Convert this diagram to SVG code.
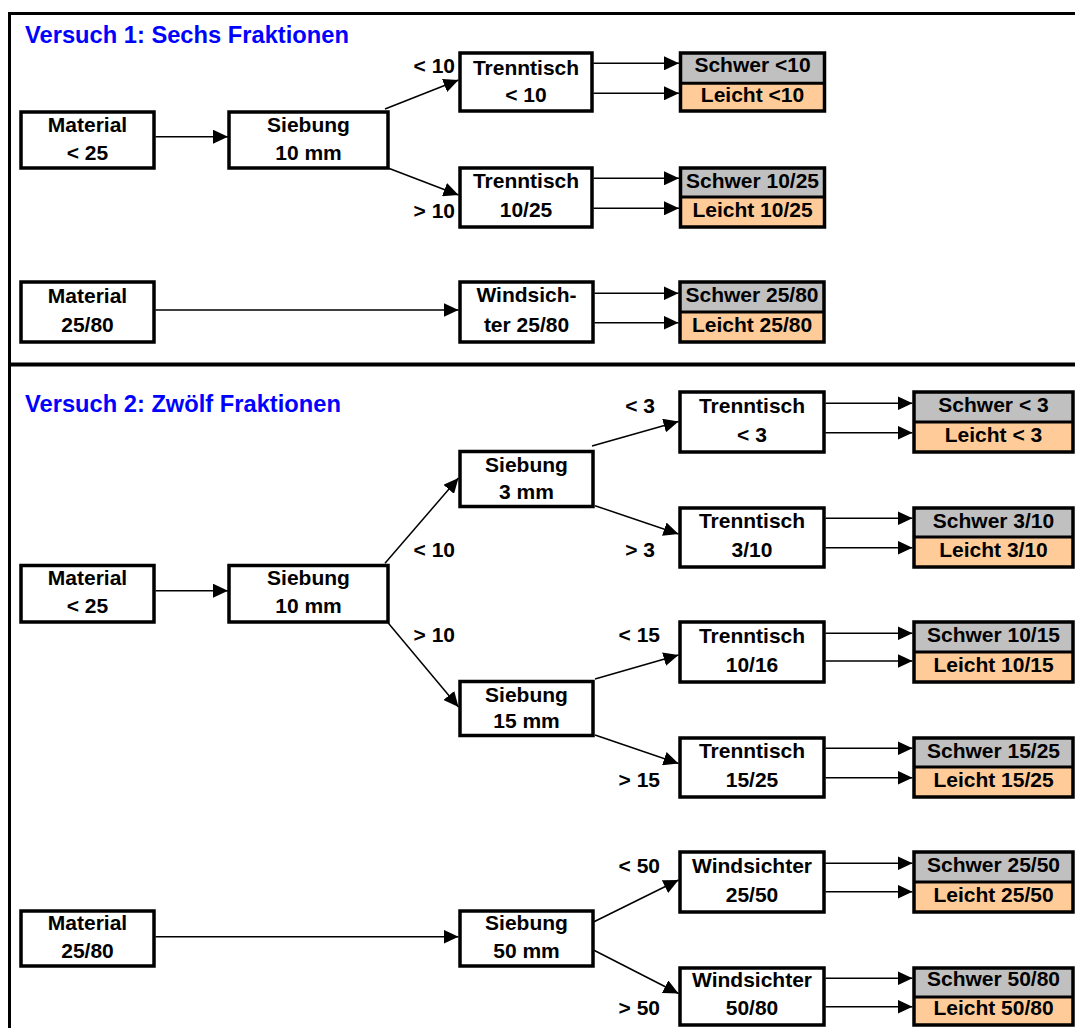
<svg xmlns="http://www.w3.org/2000/svg" width="1075" height="1028" viewBox="0 0 1075 1028">
<style>
text{font-family:"Liberation Sans",Arial,Helvetica,sans-serif;font-weight:bold;font-size:21px;fill:#000}
.t{text-anchor:middle}
.lbl{text-anchor:end}
.title{font-size:23.7px;fill:#0000FF}
.box{fill:#fff;stroke:#000;stroke-width:3.5}
.out{fill:none;stroke:#000;stroke-width:3.5}
.hv{fill:#C0C0C0}
.lt{fill:#FFCC99}
.div{stroke:#000;stroke-width:3}
.frame{stroke:#000;stroke-width:3;fill:none}
.c line{stroke:#000;stroke-width:1.5;marker-end:url(#ah)}
</style>
<defs>
<marker id="ah" markerUnits="userSpaceOnUse" markerWidth="15" markerHeight="14" refX="15" refY="7" orient="auto"><path d="M0,0 L15,7 L0,14 Z" fill="#000"/></marker>
</defs>
<rect width="1075" height="1028" fill="#fff"/>
<g id="frame">
<line class="frame" x1="8" y1="13.5" x2="1075" y2="13.5"/>
<line class="frame" x1="9.5" y1="12" x2="9.5" y2="1028"/>
<line class="frame" x1="9.5" y1="364.5" x2="1075" y2="364.5" style="stroke-width:4"/>
</g>
<text class="title" x="25" y="43">Versuch 1: Sechs Fraktionen</text>
<text class="title" x="25" y="412">Versuch 2: Zwölf Fraktionen</text>

<g class="c" id="connectors">
<line x1="155.5" y1="136.7" x2="228" y2="136.7"/>
<line x1="385" y1="109" x2="458.5" y2="80"/>
<line x1="388" y1="168" x2="458.5" y2="195"/>
<line x1="593.5" y1="63.3" x2="679" y2="63.3"/>
<line x1="593.5" y1="93.3" x2="679" y2="93.3"/>
<line x1="593.5" y1="178.3" x2="679" y2="178.3"/>
<line x1="593.5" y1="208.3" x2="679" y2="208.3"/>
<line x1="155.5" y1="310" x2="458.5" y2="310"/>
<line x1="594.5" y1="293.3" x2="678.5" y2="293.3"/>
<line x1="594.5" y1="322.7" x2="678.5" y2="322.7"/>

<line x1="592" y1="446" x2="678.5" y2="421.5"/>
<line x1="595" y1="505.7" x2="678.5" y2="534"/>
<line x1="825.5" y1="403.3" x2="912.5" y2="403.3"/>
<line x1="825.5" y1="432.7" x2="912.5" y2="432.7"/>
<line x1="825.5" y1="518.3" x2="912.5" y2="518.3"/>
<line x1="825.5" y1="547.7" x2="912.5" y2="547.7"/>
<line x1="155.5" y1="590.7" x2="228" y2="590.7"/>
<line x1="385" y1="563.3" x2="458.5" y2="478"/>
<line x1="388" y1="622.7" x2="458.5" y2="707"/>
<line x1="595" y1="679" x2="678.5" y2="655"/>
<line x1="595" y1="735" x2="678.5" y2="763.5"/>
<line x1="825.5" y1="633.3" x2="912.5" y2="633.3"/>
<line x1="825.5" y1="661" x2="912.5" y2="661"/>
<line x1="825.5" y1="748.3" x2="912.5" y2="748.3"/>
<line x1="825.5" y1="777.7" x2="912.5" y2="777.7"/>
<line x1="155.5" y1="936.7" x2="458.5" y2="936.7"/>
<line x1="593.5" y1="922" x2="678.5" y2="880"/>
<line x1="593.5" y1="950" x2="678.5" y2="993.5"/>
<line x1="825.5" y1="863.3" x2="912.5" y2="863.3"/>
<line x1="825.5" y1="891.7" x2="912.5" y2="891.7"/>
<line x1="825.5" y1="978.3" x2="912.5" y2="978.3"/>
<line x1="825.5" y1="1006.7" x2="912.5" y2="1006.7"/>
</g>

<g id="labels">
<text class="lbl" x="455" y="73">&lt; 10</text>
<text class="lbl" x="455" y="218">&gt; 10</text>
<text class="lbl" x="655" y="413">&lt; 3</text>
<text class="lbl" x="655" y="556.7">&gt; 3</text>
<text class="lbl" x="455" y="556.5">&lt; 10</text>
<text class="lbl" x="455" y="641.7">&gt; 10</text>
<text class="lbl" x="660" y="642">&lt; 15</text>
<text class="lbl" x="660" y="786.7">&gt; 15</text>
<text class="lbl" x="660" y="872.5">&lt; 50</text>
<text class="lbl" x="660" y="1015">&gt; 50</text>
</g>

<!-- Section 1 -->
<g id="m1"><rect class="box" x="21" y="112" width="133" height="56"/><text class="t" x="87.5" y="132">Material</text><text class="t" x="87.5" y="160">&lt; 25</text></g>
<g id="s1"><rect class="box" x="229" y="112" width="159" height="56"/><text class="t" x="308.5" y="132">Siebung</text><text class="t" x="308.5" y="160">10 mm</text></g>
<g id="t1"><rect class="box" x="460" y="53" width="132" height="58"/><text class="t" x="526" y="75">Trenntisch</text><text class="t" x="526" y="102">&lt; 10</text></g>
<g id="r1"><rect class="hv" x="680.5" y="53" width="144" height="30"/><rect class="lt" x="680.5" y="83" width="144" height="28"/><line class="div" x1="680.5" y1="83.3" x2="824.5" y2="83.3"/><rect class="out" x="680.5" y="53" width="144" height="58"/><text class="t" x="752.5" y="72">Schwer &lt;10</text><text class="t" x="752.5" y="102">Leicht &lt;10</text></g>
<g id="t2"><rect class="box" x="460" y="168" width="132" height="59"/><text class="t" x="526" y="188">Trenntisch</text><text class="t" x="526" y="216.7">10/25</text></g>
<g id="r2"><rect class="hv" x="680.5" y="168" width="144" height="29"/><rect class="lt" x="680.5" y="197" width="144" height="30"/><line class="div" x1="680.5" y1="197" x2="824.5" y2="197"/><rect class="out" x="680.5" y="168" width="144" height="59"/><text class="t" x="752.5" y="187.7">Schwer 10/25</text><text class="t" x="752.5" y="216.7">Leicht 10/25</text></g>
<g id="m2"><rect class="box" x="21" y="282" width="133" height="60"/><text class="t" x="87.5" y="302.5">Material</text><text class="t" x="87.5" y="331.7">25/80</text></g>
<g id="w1"><rect class="box" x="460" y="282" width="133" height="60"/><text class="t" x="526.5" y="302">Windsich-</text><text class="t" x="526.5" y="331.7">ter 25/80</text></g>
<g id="r3"><rect class="hv" x="680" y="282" width="144" height="30"/><rect class="lt" x="680" y="312" width="144" height="30"/><line class="div" x1="680" y1="312" x2="824" y2="312"/><rect class="out" x="680" y="282" width="144" height="60"/><text class="t" x="752" y="301.7">Schwer 25/80</text><text class="t" x="752" y="331.7">Leicht 25/80</text></g>

<!-- Section 2 -->
<g id="t3"><rect class="box" x="680" y="392" width="144" height="60"/><text class="t" x="752" y="413">Trenntisch</text><text class="t" x="752" y="441.7">&lt; 3</text></g>
<g id="r4"><rect class="hv" x="914" y="392" width="159" height="30"/><rect class="lt" x="914" y="422" width="159" height="30"/><line class="div" x1="914" y1="422" x2="1073" y2="422"/><rect class="out" x="914" y="392" width="159" height="60"/><text class="t" x="993.5" y="411.7">Schwer &lt; 3</text><text class="t" x="993.5" y="441.7">Leicht &lt; 3</text></g>
<g id="s2"><rect class="box" x="460" y="451.5" width="133" height="55"/><text class="t" x="526.5" y="471.7">Siebung</text><text class="t" x="526.5" y="499.3">3 mm</text></g>
<g id="t4"><rect class="box" x="680" y="508" width="144" height="59"/><text class="t" x="752" y="528.3">Trenntisch</text><text class="t" x="752" y="556.7">3/10</text></g>
<g id="r5"><rect class="hv" x="914" y="508" width="159" height="29"/><rect class="lt" x="914" y="537" width="159" height="30"/><line class="div" x1="914" y1="537" x2="1073" y2="537"/><rect class="out" x="914" y="508" width="159" height="59"/><text class="t" x="993.5" y="527.5">Schwer 3/10</text><text class="t" x="993.5" y="556.7">Leicht 3/10</text></g>
<g id="m3"><rect class="box" x="21" y="565.5" width="133" height="56.5"/><text class="t" x="87.5" y="585">Material</text><text class="t" x="87.5" y="613.3">&lt; 25</text></g>
<g id="s3"><rect class="box" x="229" y="565.5" width="159" height="56.5"/><text class="t" x="308.5" y="585">Siebung</text><text class="t" x="308.5" y="613.3">10 mm</text></g>
<g id="t5"><rect class="box" x="680" y="622" width="144" height="60"/><text class="t" x="752" y="643.3">Trenntisch</text><text class="t" x="752" y="671.7">10/16</text></g>
<g id="r6"><rect class="hv" x="914" y="622" width="159" height="30"/><rect class="lt" x="914" y="652" width="159" height="30"/><line class="div" x1="914" y1="652" x2="1073" y2="652"/><rect class="out" x="914" y="622" width="159" height="60"/><text class="t" x="993.5" y="642">Schwer 10/15</text><text class="t" x="993.5" y="671.7">Leicht 10/15</text></g>
<g id="s4"><rect class="box" x="460" y="681.5" width="133" height="54"/><text class="t" x="526.5" y="701.7">Siebung</text><text class="t" x="526.5" y="728.3">15 mm</text></g>
<g id="t6"><rect class="box" x="680" y="738" width="144" height="59"/><text class="t" x="752" y="758.3">Trenntisch</text><text class="t" x="752" y="786.7">15/25</text></g>
<g id="r7"><rect class="hv" x="914" y="738" width="159" height="29"/><rect class="lt" x="914" y="767" width="159" height="30"/><line class="div" x1="914" y1="767" x2="1073" y2="767"/><rect class="out" x="914" y="738" width="159" height="59"/><text class="t" x="993.5" y="757.5">Schwer 15/25</text><text class="t" x="993.5" y="786.7">Leicht 15/25</text></g>
<g id="w2"><rect class="box" x="680" y="852" width="144" height="60"/><text class="t" x="752" y="873.3">Windsichter</text><text class="t" x="752" y="901.7">25/50</text></g>
<g id="r8"><rect class="hv" x="914" y="852" width="159" height="30"/><rect class="lt" x="914" y="882" width="159" height="30"/><line class="div" x1="914" y1="882" x2="1073" y2="882"/><rect class="out" x="914" y="852" width="159" height="60"/><text class="t" x="993.5" y="872">Schwer 25/50</text><text class="t" x="993.5" y="901.7">Leicht 25/50</text></g>
<g id="m4"><rect class="box" x="21" y="911" width="133" height="55"/><text class="t" x="87.5" y="930">Material</text><text class="t" x="87.5" y="957.7">25/80</text></g>
<g id="s5"><rect class="box" x="460" y="911" width="133" height="55"/><text class="t" x="526.5" y="930">Siebung</text><text class="t" x="526.5" y="957.7">50 mm</text></g>
<g id="w3"><rect class="box" x="680" y="968" width="144" height="57"/><text class="t" x="752" y="986.7">Windsichter</text><text class="t" x="752" y="1015">50/80</text></g>
<g id="r9"><rect class="hv" x="914" y="968" width="159" height="29"/><rect class="lt" x="914" y="997" width="159" height="28"/><line class="div" x1="914" y1="997" x2="1073" y2="997"/><rect class="out" x="914" y="968" width="159" height="57"/><text class="t" x="993.5" y="986">Schwer 50/80</text><text class="t" x="993.5" y="1015">Leicht 50/80</text></g>
</svg>
